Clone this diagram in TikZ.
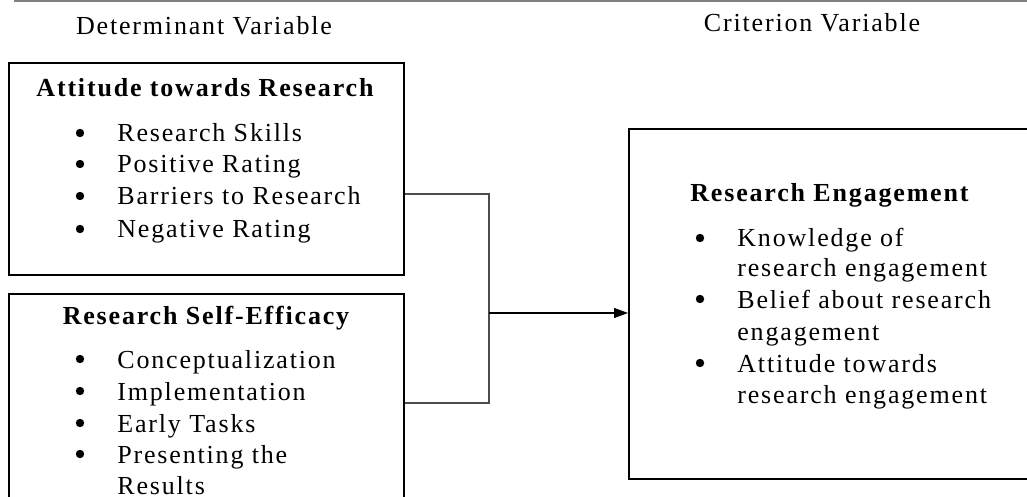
\documentclass[tikz,border=0pt]{standalone}
\usepackage{fontspec}
\setmainfont[LetterSpace=7]{Liberation Serif}
\usetikzlibrary{arrows.meta}

\tikzset{
  box/.style={draw, line width=1pt, inner sep=0pt},
  txt/.style={anchor=base west, inner sep=0pt, font=\fontsize{13}{16}\selectfont},
  head/.style={anchor=base, inner sep=0pt, font=\fontsize{13}{16}\selectfont},
  title/.style={head, font=\fontsize{13}{16}\selectfont\bfseries},
  link/.style={draw=black!70, line width=0.6pt},
  arrow/.style={draw=black, line width=0.6pt, -{Triangle[length=7pt,width=5pt]}}
}

\begin{document}
\begin{tikzpicture}[x=0.5pt, y=-0.5pt]

    % Cornice
    \clip (0,0) rectangle (1027,497);
    \useasboundingbox (0,0) rectangle (1027,497);
    \draw[gray, line width=1pt] (14,1) -- (1027,1);

    % Intestazioni
    \node[head] (hdet) at (204,35) {Determinant Variable};
    \node[head] (hcri) at (812,32) {Criterion Variable};

    % Riquadro 1
    \node[box, minimum width=197.5pt, minimum height=106pt] (att) at (206.5,169) {};
    \node[title] (tatt) at (205,97) {Attitude towards Research};
    \node[txt] (a1) at (117,142) {Research Skills};
    \node[txt] (a2) at (117,173) {Positive Rating};
    \node[txt] (a3) at (117,205) {Barriers to Research};
    \node[txt] (a4) at (117,238) {Negative Rating};

    % Riquadro 2 (tagliato in basso)
    \node[box, minimum width=197.5pt, minimum height=109pt] (eff) at (206.5,403) {};
    \node[title] (teff) at (206,324) {Research Self-Efficacy};
    \node[txt] (e1) at (117,368) {Conceptualization};
    \node[txt] (e2) at (117,400) {Implementation};
    \node[txt] (e3) at (117,432) {Early Tasks};
    \node[txt] (e4) at (117,463) {Presenting the};
    \node[txt] (e5) at (117,494) {Results};

    % Riquadro a destra (tagliato a destra)
    \node[box, minimum width=202pt, minimum height=175pt] (eng) at (831,304) {};
    \node[title, anchor=base west] (teng) at (690,202) {Research Engagement};
    \node[txt] (g1) at (737,247) {Knowledge of};
    \node[txt] (g2) at (737,277) {research engagement};
    \node[txt] (g3) at (737,308) {Belief about research};
    \node[txt] (g4) at (737,340) {engagement};
    \node[txt] (g5) at (737,372) {Attitude towards};
    \node[txt] (g6) at (737,403) {research engagement};

    % Punti elenco
    \foreach \y in {133,164,196,229,359,391,423,454}
      \fill (80,\y) circle (2.1pt);
    \foreach \y in {238,299,363}
      \fill (700,\y) circle (2.1pt);

    % Collegamenti
    \coordinate (jn) at (489,313);
    \draw[link] ([yshift=-12.5pt]att.east) -| (jn) |- (eff.east);
    \draw[arrow] (jn) -- (jn -| eng.west);

\end{tikzpicture}
\end{document}
